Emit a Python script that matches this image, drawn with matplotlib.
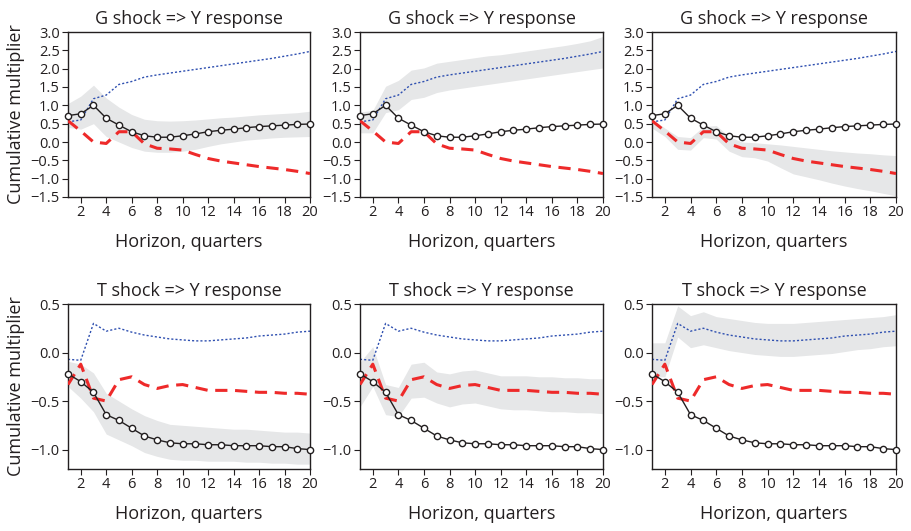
import matplotlib.pyplot as plt
import numpy as np

plt.rcParams['font.family'] = ['Open Sans', 'DejaVu Sans']
plt.rcParams['axes.unicode_minus'] = True

horizon = np.arange(1, 21)

# G shock => Y response
g_black = [0.72, 0.77, 1.00, 0.65, 0.46, 0.28, 0.17, 0.13, 0.13, 0.17,
           0.22, 0.28, 0.32, 0.35, 0.39, 0.42, 0.44, 0.46, 0.48, 0.49]
g_blue = [0.55, 0.60, 1.18, 1.28, 1.57, 1.65, 1.77, 1.83, 1.88, 1.93,
          1.98, 2.03, 2.08, 2.13, 2.18, 2.23, 2.28, 2.34, 2.40, 2.47]
g_red = [0.58, 0.30, 0.00, -0.04, 0.28, 0.28, -0.05, -0.17, -0.19, -0.22,
         -0.34, -0.45, -0.52, -0.57, -0.62, -0.67, -0.71, -0.75, -0.80, -0.86]

g_black_hi = [1.05, 1.25, 1.55, 1.20, 0.95, 0.75, 0.62, 0.58, 0.57, 0.58,
              0.60, 0.63, 0.66, 0.68, 0.71, 0.74, 0.76, 0.78, 0.80, 0.84]
g_black_lo = [0.40, 0.35, 0.50, 0.15, 0.00, -0.15, -0.25, -0.28, -0.28, -0.25,
              -0.20, -0.12, -0.05, 0.00, 0.05, 0.08, 0.11, 0.13, 0.14, 0.15]
g_blue_hi = [0.82, 0.86, 1.52, 1.68, 1.96, 2.02, 2.15, 2.20, 2.25, 2.30,
             2.35, 2.38, 2.43, 2.48, 2.53, 2.58, 2.63, 2.69, 2.76, 2.88]
g_blue_lo = [0.25, 0.25, 0.80, 0.88, 1.16, 1.22, 1.35, 1.42, 1.47, 1.52,
             1.57, 1.62, 1.67, 1.72, 1.77, 1.82, 1.87, 1.92, 1.97, 2.02]
g_red_hi = [0.62, 0.38, 0.15, 0.12, 0.42, 0.45, 0.15, 0.00, -0.02, -0.05,
            -0.08, -0.12, -0.16, -0.20, -0.24, -0.27, -0.30, -0.32, -0.35, -0.37]
g_red_lo = [0.38, 0.15, -0.20, -0.22, 0.12, 0.08, -0.25, -0.40, -0.43, -0.52,
            -0.70, -0.87, -0.95, -1.03, -1.12, -1.20, -1.27, -1.33, -1.40, -1.47]

# T shock => Y response
t_black = [-0.22, -0.30, -0.41, -0.64, -0.70, -0.78, -0.86, -0.90, -0.93, -0.94,
           -0.94, -0.95, -0.95, -0.96, -0.96, -0.96, -0.97, -0.97, -0.99, -1.00]
t_blue = [-0.07, -0.08, 0.30, 0.22, 0.25, 0.21, 0.18, 0.16, 0.14, 0.13,
          0.12, 0.12, 0.13, 0.14, 0.15, 0.17, 0.18, 0.19, 0.21, 0.22]
t_red = [-0.33, -0.12, -0.47, -0.50, -0.28, -0.25, -0.33, -0.37, -0.34, -0.33,
         -0.36, -0.39, -0.39, -0.39, -0.40, -0.41, -0.41, -0.42, -0.42, -0.43]

t_black_hi = [-0.09, -0.12, -0.21, -0.42, -0.50, -0.58, -0.65, -0.70, -0.74, -0.75,
              -0.76, -0.77, -0.78, -0.79, -0.79, -0.80, -0.81, -0.82, -0.82, -0.83]
t_black_lo = [-0.35, -0.47, -0.61, -0.84, -0.90, -0.96, -1.03, -1.07, -1.10, -1.11,
              -1.11, -1.12, -1.12, -1.12, -1.13, -1.13, -1.14, -1.14, -1.15, -1.15]
t_red_hi = [-0.10, 0.06, -0.33, -0.36, -0.12, -0.10, -0.20, -0.22, -0.19, -0.18,
            -0.21, -0.24, -0.24, -0.24, -0.25, -0.25, -0.26, -0.26, -0.27, -0.27]
t_red_lo = [-0.56, -0.35, -0.64, -0.66, -0.47, -0.46, -0.52, -0.56, -0.53, -0.52,
            -0.55, -0.58, -0.59, -0.59, -0.60, -0.61, -0.61, -0.62, -0.62, -0.63]
t_blue_hi = [0.10, 0.10, 0.48, 0.38, 0.42, 0.37, 0.35, 0.33, 0.31, 0.30,
             0.30, 0.30, 0.31, 0.32, 0.33, 0.34, 0.35, 0.36, 0.37, 0.39]
t_blue_lo = [-0.25, -0.25, 0.16, 0.05, 0.08, 0.05, 0.02, 0.00, -0.02, -0.03,
             -0.04, -0.04, -0.03, -0.02, -0.01, 0.01, 0.03, 0.04, 0.06, 0.07]

ink = '#231f20'
band_color = '#e6e7e8'
blue = '#2e4fb0'
red = '#ee2a2a'

rows = [
    dict(title='G shock => Y response', black=g_black, blue=g_blue, red=g_red,
         bands=[(g_black_lo, g_black_hi), (g_blue_lo, g_blue_hi), (g_red_lo, g_red_hi)],
         ylim=(-1.5, 3.0), yticks=np.arange(-1.5, 3.01, 0.5)),
    dict(title='T shock => Y response', black=t_black, blue=t_blue, red=t_red,
         bands=[(t_black_lo, t_black_hi), (t_red_lo, t_red_hi), (t_blue_lo, t_blue_hi)],
         ylim=(-1.2, 0.5), yticks=np.arange(-1.0, 0.51, 0.5)),
]

fig = plt.figure(figsize=(9.11, 5.31), dpi=100)

lefts = [68, 360, 652]
widths = [242, 243, 244]
tops = [32, 304]
height = 165

for r, row in enumerate(rows):
    for c in range(3):
        ax = fig.add_axes([lefts[c] / 911, 1 - (tops[r] + height) / 531,
                           widths[c] / 911, height / 531])
        lo, hi = row['bands'][c]
        ax.fill_between(horizon, lo, hi, color=band_color, lw=0, zorder=1)
        ax.plot(horizon, row['blue'], color=blue, ls=(0, (1.5, 1.5)), lw=1.0, zorder=2)
        ax.plot(horizon, row['red'], color=red, ls=(0, (4, 2.5)), lw=2.2, zorder=3)
        ax.plot(horizon, row['black'], color=ink, lw=1.0, marker='o', ms=4.5,
                mfc='white', mec=ink, mew=1.0, zorder=4, clip_on=False)

        ax.set_xlim(1, 20)
        ax.set_ylim(*row['ylim'])
        ax.set_xticks(np.arange(2, 21, 2))
        ax.set_yticks(row['yticks'])
        ax.set_yticklabels([f'{v:.1f}'.replace('-', '\u2212') for v in row['yticks']])
        ax.tick_params(colors=ink, labelsize=10.5, length=4, width=0.8, pad=2)
        for s in ax.spines.values():
            s.set_color(ink)
            s.set_linewidth(1.0)
        ax.set_title(row['title'], fontsize=13, color=ink, pad=6)
        ax.set_xlabel('Horizon, quarters', fontsize=13, color=ink, labelpad=9)
        if c == 0:
            ax.set_ylabel('Cumulative multiplier', fontsize=13, color=ink, labelpad=4)

fig.savefig('out.png', dpi=100)
